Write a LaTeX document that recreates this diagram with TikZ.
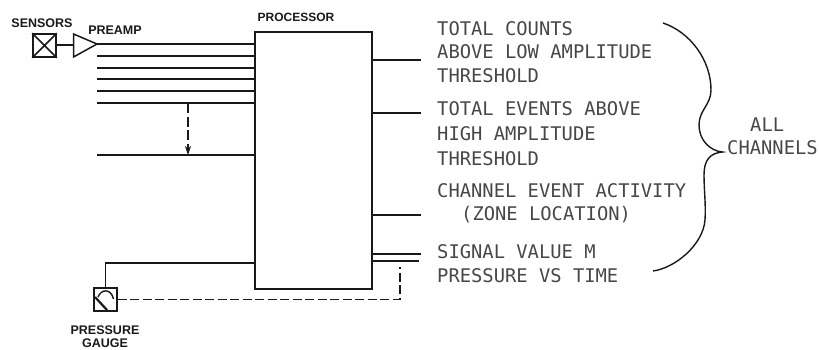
\documentclass[tikz,border=0pt]{standalone}
\usepackage{fontspec}
\setmainfont{Liberation Sans}
\newfontfamily\thinmono{DejaVu Sans Mono}[Scale=1]
\usetikzlibrary{arrows.meta}
\definecolor{ink}{gray}{0.1}
\tikzset{
  x=1pt,y=-1pt,
  wire/.style={draw=ink,line width=1.6pt},
  thin wire/.style={draw=ink,line width=1.3pt},
  dash wire/.style={draw=ink,line width=1.6pt,dash pattern=on 9pt off 3.5pt},
  small label/.style={inner sep=0pt,text=ink,font=\bfseries\fontsize{12.5}{14}\selectfont},
  big label/.style={inner sep=0pt,anchor=west,text=ink!80,font=\thinmono\fontsize{18.8}{22}\selectfont},
  blackbox/.style={draw=ink,line width=1.7pt,minimum width=23pt,minimum height=23pt,inner sep=0pt}
}
\begin{document}
\begin{tikzpicture}
\useasboundingbox (0,0) rectangle (819,349);
% processor
\node[draw=ink,line width=1.5pt,minimum width=117pt,minimum height=257pt,inner sep=0pt] (proc) at (313.5,160.5) {};
\node[small label,font=\bfseries\fontsize{12}{14}\selectfont] (ptitle) at (296,17) {PROCESSOR};
% sensor
\node[blackbox] (sensor) at (44.5,45.5) {};
\draw[line width=1.5pt,ink] (sensor.north west) -- (sensor.south east) (sensor.north east) -- (sensor.south west);
\node[small label] (slabel) at (42,23) {SENSORS};
% preamp
\coordinate (ptop) at (73.5,34);
\coordinate (pbot) at (73.5,57);
\coordinate (s1) at (97,44);
\draw[line width=1.5pt,ink,line join=miter] (ptop) -- (s1) -- (pbot) -- cycle;
\draw[thin wire] (sensor.east |- 0,45) -- (73.5,45);
\node[small label] (plabel) at (115,30.5) {PREAMP};
% input channels
\coordinate (s2) at (97,56);
\coordinate (s3) at (97,68);
\coordinate (s4) at (97,79);
\coordinate (s5) at (97,91);
\coordinate (s6) at (97,103);
\coordinate (s7) at (97,155);
\foreach \s in {s1,s2,s3,s4,s5,s6,s7}{
  \draw[wire] (\s) -- (\s -| proc.west);
}
% skipped channel arrow
\coordinate (a1) at (188,103);
\coordinate (a2) at (188,155);
\draw[line width=1.2pt,ink,dash pattern=on 10pt off 3.5pt,-{Stealth[length=9pt,width=6pt]}] (a1) -- (a2);
% pressure gauge
\node[blackbox] (gauge) at (105.5,299.5) {};
\draw[line width=1.4pt,ink] (98,297) .. controls (101,289) and (111,288) .. (113.5,299);
\draw[line width=2.2pt,ink] (95,297) -- (107,310);
\node[small label] (g1) at (105,330) {PRESSURE};
\node[small label] (g2) at (105,343) {GAUGE};
\draw[thin wire] (gauge.north) |- (proc.west |- 0,263);
% outputs
\coordinate (o1) at (421,60);
\coordinate (o2) at (421,113);
\coordinate (o3) at (421,215);
\coordinate (o4) at (421,254);
\coordinate (o5) at (419,261);
\foreach \o in {o1,o2,o3,o4,o5}{
  \draw[wire] (\o -| proc.east) -- (\o);
}
\coordinate (d1) at (400,267);
\draw[dash wire] (gauge.east) -- (400,299.5) -- (d1);
% texts
\node[big label] (t1) at (437,29) {TOTAL COUNTS};
\node[big label] (t2) at (437,52) {ABOVE LOW AMPLITUDE};
\node[big label] (t3) at (437,76) {THRESHOLD};
\node[big label] (t4) at (437,109) {TOTAL EVENTS ABOVE};
\node[big label] (t5) at (437,134) {HIGH AMPLITUDE};
\node[big label] (t6) at (437,159) {THRESHOLD};
\node[big label] (t7) at (437,191) {CHANNEL EVENT ACTIVITY};
\node[big label] (t8) at (461,215) {(ZONE LOCATION)};
\node[big label] (t9) at (437,252) {SIGNAL VALUE M};
\node[big label] (t10) at (437,276) {PRESSURE VS TIME};
\node[big label] (t11) at (750,125) {ALL};
\node[big label] (t12) at (727,148) {CHANNELS};
% brace
\draw[line width=1.4pt,ink] (663,23) .. controls (690,32) and (711,60) .. (711,90)
  .. controls (711,105) and (699,110) .. (699,125)
  .. controls (699,140) and (710,151) .. (722.5,152)
  .. controls (710,153) and (704,160) .. (704,175)
  .. controls (704,190) and (706,205) .. (705,220)
  .. controls (703,245) and (675,268) .. (653,271);
\end{tikzpicture}
\end{document}
